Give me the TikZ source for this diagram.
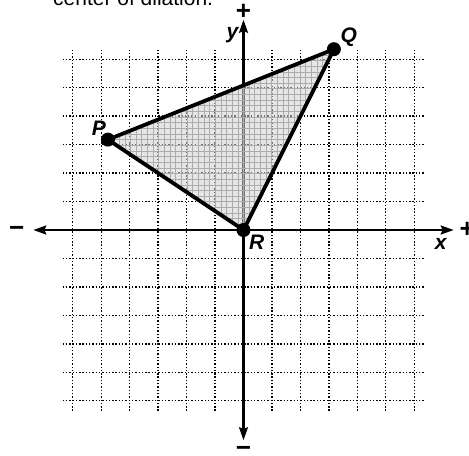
\documentclass[tikz,border=0pt]{standalone}
\usepackage{fontspec}
\setmainfont{Liberation Sans}
\usetikzlibrary{arrows.meta, positioning}
\tikzset{
  gridline/.style={dash pattern=on 1.4pt off 1.9pt, line width=1.4pt, black},
  finegrid/.style={line width=0.6pt, color=gray!65},
  axisline/.style={line width=2.2pt, {Stealth[length=13pt, width=9pt, inset=2pt]}-{Stealth[length=13pt, width=9pt, inset=2pt]}},
  triedge/.style={line width=3.8pt, line join=round},
  trifill/.style={fill=gray!35, fill opacity=0.55},
  ptdot/.style={circle, fill=black, inner sep=0pt, minimum size=14pt},
  ptlabel/.style={inner sep=0pt, font=\fontsize{21}{21}\selectfont\bfseries\itshape},
  signlabel/.style={inner sep=0pt, font=\fontsize{26}{26}\selectfont\bfseries},
}
\begin{document}
\begin{tikzpicture}[x=22.6pt, y=22.6pt]
  \useasboundingbox (-10.774,-9.956) rectangle (9.978,10.177);
  % question text, cut at the top
  \node[anchor=base west, inner sep=0pt, font=\fontsize{21}{25}\selectfont]
    (txt) at (-8.43,9.93) {center of dilation.};
  % dotted grid
  \draw[gridline] (-8,-8) grid (8,8);
  % axes
  \coordinate (xl) at (-9.3,0);
  \coordinate (xr) at (9.3,0);
  \coordinate (yb) at (0,-9.3);
  \coordinate (yt) at (0,9.3);
  \draw[axisline] (xl) -- (xr);
  \draw[axisline] (yb) -- (yt);
  % vertices
  \coordinate (P) at (-6,4);
  \coordinate (Q) at (4,8);
  \coordinate (R) at (0,0);
  % shaded triangle with fine grid
  \fill[trifill] (P) -- (Q) -- (R) -- cycle;
  \begin{scope}
    \clip (P) -- (Q) -- (R) -- cycle;
    \draw[finegrid, step=0.25] (-8,-8) grid (8,8);
  \end{scope}
  \draw[triedge] (P) -- (Q) -- (R) -- cycle;
  \node[ptdot] (Pdot) at (P) {};
  \node[ptdot] (Qdot) at (Q) {};
  \node[ptdot] (Rdot) at (R) {};
  % labels
  \node[ptlabel] (Plab) at (-6.4,4.48) {P};
  \node[ptlabel] (Qlab) at (4.66,8.53) {Q};
  \node[ptlabel] (Rlab) at (0.58,-0.54) {R};
  \node[ptlabel] (xlab) at (8.73,-0.63) {x};
  \node[ptlabel] (ylab) at (-0.49,8.64) {y};
  \node[signlabel] (ytop) at (0,9.66) {+};
  \node[signlabel] (ybot) at (0,-9.8) {−};
  \node[signlabel] (xleft) at (-10.03,-0.07) {−};
  \node[signlabel] (xright) at (9.9,0) {+};
\end{tikzpicture}
\end{document}
